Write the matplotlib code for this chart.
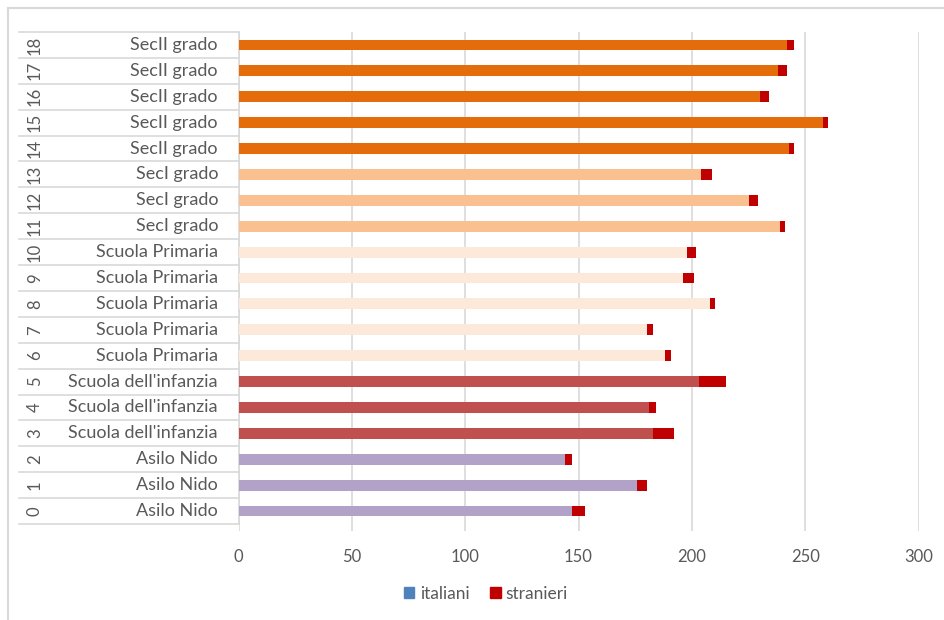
import matplotlib
matplotlib.use("Agg")
import matplotlib.pyplot as plt
from matplotlib.patches import Patch
from matplotlib.lines import Line2D
import matplotlib.transforms as mtransforms

plt.rcParams['font.family'] = ['Lato', 'DejaVu Sans']

# Age (years) and school level for each row, bottom to top
ages = [str(a) for a in range(19)]
levels = (["Asilo Nido"] * 3 + ["Scuola dell'infanzia"] * 3 +
          ["Scuola Primaria"] * 5 + ["SecI grado"] * 3 + ["SecII grado"] * 5)

italiani = [147, 176, 144, 183, 181, 203, 188, 180, 208, 196, 198,
            239, 225, 204, 243, 258, 230, 238, 242]
stranieri = [6, 4, 3, 9, 3, 12, 3, 3, 2, 5, 4,
             2, 4, 5, 2, 2, 4, 4, 3]

level_colors = {
    "Asilo Nido": "#B3A2C7",
    "Scuola dell'infanzia": "#C0504D",
    "Scuola Primaria": "#FDE9D9",
    "SecI grado": "#FAC090",
    "SecII grado": "#E46C0A",
}
red = "#C00000"
grid_c = "#D9D9D9"
text_c = "#595959"

W, H = 944, 620
fig = plt.figure(figsize=(W / 100, H / 100), dpi=100)

# plot area in pixel coordinates
x0, x1 = 238.5, 918.5
row_top, row_bot = 32, 524
extra = 7  # gridlines run slightly below the last row
n = len(ages)
row_h = (row_bot - row_top) / n
ax = fig.add_axes([x0 / W, (H - row_bot - extra) / H,
                   (x1 - x0) / W, (row_bot + extra - row_top) / H])
ax.set_xlim(0, 300)
ax.set_ylim(-0.5 - extra / row_h, n - 0.5)

ypos = list(range(n))
cols = [level_colors[l] for l in levels]
ax.barh(ypos, italiani, height=0.42, color=cols, zorder=3)
ax.barh(ypos, stranieri, left=italiani, height=0.42, color=red, zorder=3)

ax.set_xticks([0, 50, 100, 150, 200, 250, 300])
ax.grid(axis='x', color=grid_c, linewidth=1.2, zorder=0)
ax.set_yticks([])
for s in ax.spines.values():
    s.set_visible(False)
ax.tick_params(axis='x', length=0, pad=13, labelsize=12, labelcolor=text_c)

# two-level category table on the left
trans = mtransforms.blended_transform_factory(fig.transFigure, ax.transData)
for k in range(n + 1):
    y = k - 0.5
    ax.add_line(Line2D([19 / W, x0 / W], [y, y], transform=trans,
                       color=grid_c, linewidth=1.2, clip_on=False))
ax.add_line(Line2D([x0 / W, x0 / W], [-0.5, n - 0.5], transform=trans,
                   color=grid_c, linewidth=1.2, clip_on=False))
for i in range(n):
    ax.text(35 / W, i, ages[i], transform=trans, rotation=90,
            ha='center', va='center', fontsize=12, color=text_c)
    ax.text(218 / W, i, levels[i], transform=trans,
            ha='right', va='center', fontsize=13, color=text_c)

# outer chart border
fig.add_artist(Line2D([8 / W, 8 / W], [0, 1 - 8 / H], color=grid_c,
                      linewidth=1.5, transform=fig.transFigure))
fig.add_artist(Line2D([8 / W, 1], [1 - 8 / H, 1 - 8 / H], color=grid_c,
                      linewidth=1.5, transform=fig.transFigure))

handles = [Patch(color="#4F81BD", label="italiani"),
           Patch(color=red, label="stranieri")]
fig.legend(handles=handles, loc='center', bbox_to_anchor=(486 / W, 1 - 594 / H),
           ncol=2, frameon=False, fontsize=12.5, handlelength=0.6,
           handleheight=0.6, handletextpad=0.3, columnspacing=1.2,
           labelcolor=text_c)

fig.savefig("out.png", dpi=100, facecolor="white")
